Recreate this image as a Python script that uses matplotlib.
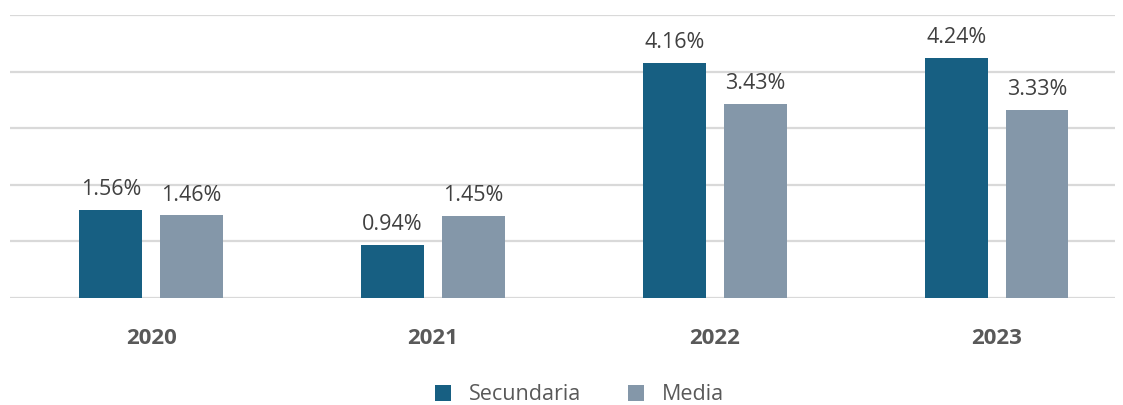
import matplotlib.pyplot as plt
import numpy as np

years = ["2020", "2021", "2022", "2023"]
secundaria = [1.56, 0.94, 4.16, 4.24]
media = [1.46, 1.45, 3.43, 3.33]

plt.rcParams['font.family'] = ['Open Sans', 'DejaVu Sans']

fig = plt.figure(figsize=(11.23, 4.05), dpi=100)
ax = fig.add_axes([0.009, 0.264, 0.984, 0.699])

x = np.arange(len(years))
w = 0.223
off = 0.143
b1 = ax.bar(x - off, secundaria, w, color="#175F82", label="Secundaria", zorder=3)
b2 = ax.bar(x + off, media, w, color="#8497A9", label="Media", zorder=3)

for bars, vals in ((b1, secundaria), (b2, media)):
    for r, v in zip(bars, vals):
        ax.annotate("%.2f%%" % v, (r.get_x() + r.get_width() / 2, v),
                    xytext=(0, 7), textcoords="offset points",
                    ha="center", va="bottom", fontsize=15.5, color="#404040")

ax.set_xlim(-0.5, 3.42)
ax.set_ylim(0, 5)
ax.set_yticks(range(0, 6))
ax.yaxis.grid(True, color="#D9D9D9", linewidth=1.6, zorder=0)
ax.tick_params(left=False, labelleft=False, bottom=False)
for s in ax.spines.values():
    s.set_visible(False)
ax.set_xticks(x)
ax.set_xticklabels(years, fontsize=16, fontweight="bold", color="#595959")
ax.tick_params(axis="x", pad=18)

fig.legend(handles=[b1, b2], loc="center", bbox_to_anchor=(0.516, 0.025), ncol=2, frameon=False,
           fontsize=15.5, labelcolor="#595959", handlelength=0.75, handleheight=0.75,
           columnspacing=2.2, handletextpad=0.8)

fig.savefig("out.png", dpi=100)
